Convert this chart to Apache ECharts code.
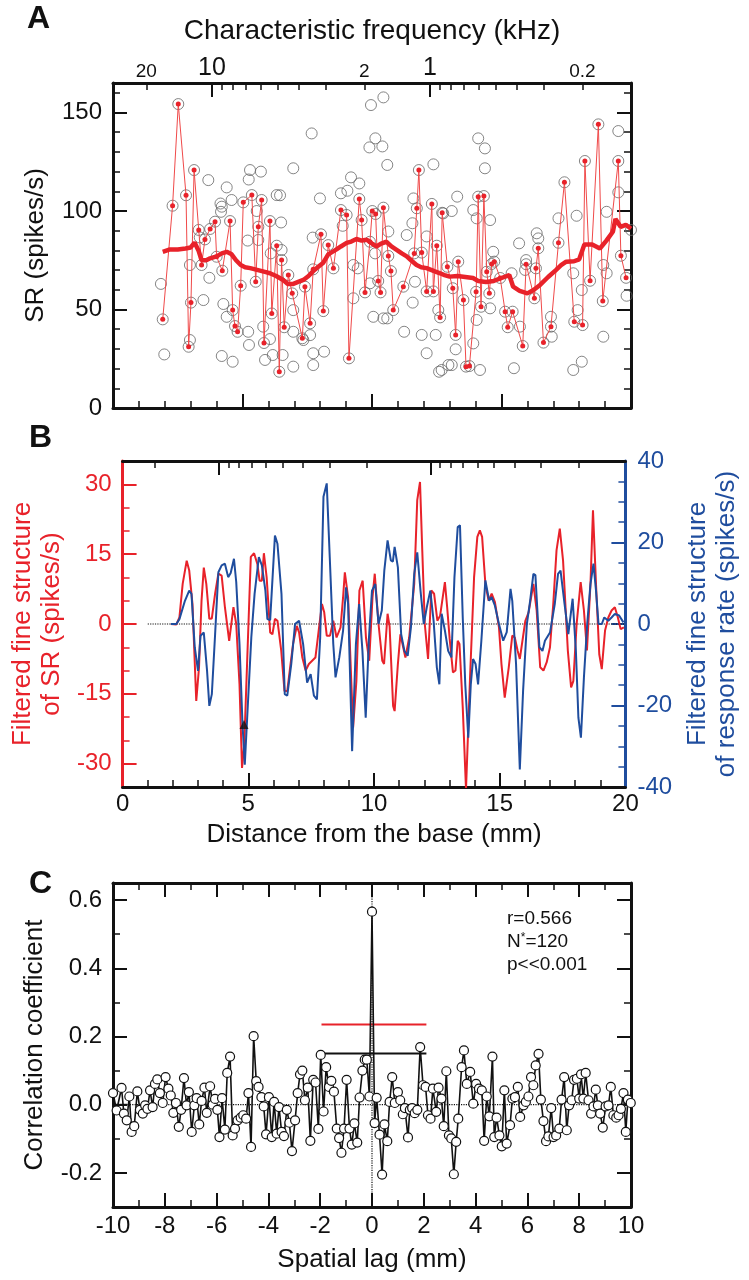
<!DOCTYPE html>
<html><head><meta charset="utf-8">
<script src="https://cdn.jsdelivr.net/npm/echarts@6/dist/echarts.min.js"></script>
<style>html,body{margin:0;padding:0;background:#fff}#c{width:749px;height:1280px}</style>
</head><body><div id="c"></div>
<script>
// ---------------- DATA ----------------
// Top axis: characteristic frequency (kHz)
const cfLabelFreqs = [20, 10, 2, 1, 0.2];
const cfMajorFreqs = [10, 1];
const cfMinorFreqs = [20, 9, 8, 7, 6, 5, 4, 3, 2, 0.9, 0.8, 0.7, 0.6, 0.5, 0.4, 0.3, 0.2];

// Panel A: SR of fibres with both measures (red, connected)
const aRedMm = [1.92,2.30,2.52,2.82,2.92,3.01,3.13,3.31,3.42,3.55,3.75,3.94,4.00,4.22,4.52,4.62,4.71,4.81,4.93,5.03,5.36,5.51,5.61,5.74,5.83,
6.06,6.13,6.32,6.42,6.51,6.61,6.77,6.92,7.31,7.41,7.61,7.73,8.03,8.12,8.31,8.51,8.80,9.02,9.11,9.51,9.60,9.73,9.92,10.01,10.14,10.24,10.33,10.44,10.63,10.73,10.82,11.21,11.63,11.73,11.81,11.92,12.11,12.31,12.37,12.50,12.63,12.71,
12.91,13.12,13.23,13.33,13.53,13.63,13.76,14.02,14.10,14.21,14.32,14.43,14.53,14.62,14.72,14.95,15.14,15.24,15.43,15.82,15.95,16.27,16.33,16.42,16.62,16.91,17.20,17.43,17.81,18.13,18.22,18.42,18.74,18.91,19.51,19.61,19.81];
const aRedSr = [45.0,102.7,154.3,108,31.1,53.5,120.8,90.4,72.6,85.6,90.9,94.6,76.8,69.7,94.9,49.7,41.6,38.7,62.1,104.4,108.1,64.1,92.0,105.6,33.0,
94.9,48,82.4,18.4,75.1,41,67.5,58.2,35.4,61.6,43.0,70.4,88.2,49.2,82.7,70.9,100.5,98.0,25.2,106.1,95.4,58.7,84.4,100,98.5,64.5,58.7,101.7,77.2,69.5,49.7,61.6,78.5,101.4,120.8,78.9,59.2,103.6,59.2,82.4,46.0,99.1,
71.7,60.8,37.1,74.3,54.8,21,21.3,59.0,107.3,51.4,107.6,69.2,58.2,73.1,74.3,66,48.9,41,48.9,31.5,73,55.7,70.9,81.1,33.2,41.3,83.9,114.6,43.8,42.1,125.4,64.6,144,54.3,125.4,77.3,66.1];
// Panel A: other fibres (grey circles only)
const aGreyMm = [1.85,1.98,2.97,2.97,3.35,3.49,3.68,3.72,4.15,4.17,4.2,4.26,4.39,4.39,4.2,4.58,4.62,5.2,5.22,5.25,5.29,5.24,5.71,5.55,5.61,5.8,5.87,6.09,6.17,6.06,6.32,6.45,6.96,6.49,6.51,6.55,6.96,6.96,6.96,7.35,7.61,7.67,7.73,7.73,7.99,8.15,7.71,8.8,9.05,9.19,9.51,8.87,9.28,9.45,9.28,9.92,9.96,10.44,9.9,10.13,10.4,10.59,10.05,10.44,10.59,10.12,10.63,11.24,11.34,11.6,11.56,11.66,11.57,11.92,12.11,12.11,12.37,12.46,12.59,12.75,12.95,12.56,13.08,13.29,12.69,13.08,13.23,13.91,14.17,14.1,14.36,14.36,14.56,13.91,14.04,14.04,14.56,14.68,15.39,15.48,15.68,15.71,15.91,15.95,16.36,16.42,16.91,16.94,17.2,17.77,18.1,17.77,17.94,18.1,17.9,18.93,19.06,18.93,19.06,19.51,19.51,19.83,20.0];
const aGreySr = [63,27.2,72.6,34.5,86.6,54.8,115.7,66.1,103.8,99.6,26.4,52.8,112,46.3,102.2,105.6,23.5,85,38.7,32,120.8,116,120,100,85.3,41.3,24.4,78.5,26.9,35,108.1,108,121.7,94.2,80.2,26.9,49.7,38.7,21,34.5,37,139.4,21.8,27.8,106.4,28.6,86.5,109,110.3,117.1,114,92.5,72.6,70.9,55.7,63.3,153.8,157.7,132.3,136.9,132.8,123.4,46.3,45.5,45.5,78.5,89.6,38.7,87.8,106.4,93.8,64.1,53.5,37.1,27.8,87.1,123.7,37.1,18.4,98.8,21.8,49.7,100,107.3,19.3,21.8,29.8,32.8,19.3,136.9,131.8,121.7,95.4,100.5,96.3,44.7,50.6,79.3,68.4,20.2,83.6,41.3,70.1,75.1,88.7,86.1,46.3,36.2,96.3,19.3,23.5,68.4,49.7,59.9,97.6,36.2,99.6,72.6,68.4,140.6,109.5,57,90.4];
// Panel A: running average (thick red)
const aAvgMm = [1.92,2.2,2.5,2.8,3.0,3.15,3.3,3.42,3.6,3.75,4.0,4.2,4.39,4.58,4.75,4.93,5.1,5.3,5.6,5.9,6.06,6.3,6.57,6.75,6.96,7.15,7.35,7.55,7.73,7.95,8.12,8.31,8.63,8.8,9.02,9.2,9.4,9.6,9.8,10.0,10.18,10.35,10.56,10.75,10.95,11.15,11.34,11.55,11.72,11.9,12.11,12.4,12.63,12.8,13.0,13.3,13.6,13.9,14.1,14.4,14.7,15.0,15.3,15.45,15.7,16.0,16.25,16.5,16.8,17.1,17.3,17.5,17.8,18.0,18.2,18.5,18.8,19.05,19.3,19.4,19.6,19.8,20.0];
const aAvgSr = [79.3,80.5,80.5,81,81.5,84,80,75,75,76,77,78.5,79.3,78,75,72.6,71.5,71,70,69,68.4,67,65,63,63,64,65,67,69.5,72,73.8,78,80.5,82,83.8,84.5,85.8,85,85.4,83.5,82,83.5,84.4,82,80.3,78.5,77,74.5,72.6,71.5,71,69.5,68.4,67.5,66.7,67,66.5,66,64.5,64,64.5,66,67.5,61.6,59.5,58.2,60,62.6,66.5,70,72.5,74.3,74.5,75.5,83,83,81,85,89.5,96,92,93,91];

// Panel B: filtered fine structure
const bRedMm = [1.92,2.14,2.26,2.39,2.55,2.65,2.78,2.93,3.04,3.14,3.23,3.33,3.45,3.55,3.68,3.81,3.94,4.07,4.24,4.41,4.52,4.65,4.75,4.84,4.97,5.10,5.23,5.36,5.45,5.54,5.62,5.73,5.87,5.96,6.06,6.16,6.31,6.44,6.55,6.68,6.78,6.93,7.02,7.15,7.28,7.41,7.54,7.67,7.80,7.93,8.02,8.12,8.25,8.38,8.51,8.67,8.77,8.84,8.97,9.10,9.17,9.30,9.42,9.55,9.68,9.81,9.94,10.03,10.18,10.33,10.40,10.54,10.62,10.76,10.82,10.95,11.05,11.25,11.40,11.60,11.72,11.83,11.92,12.02,12.15,12.28,12.39,12.52,12.63,12.82,12.91,13.01,13.14,13.24,13.33,13.40,13.53,13.66,13.82,13.98,14.11,14.21,14.30,14.43,14.56,14.68,14.81,14.97,15.07,15.20,15.36,15.50,15.60,15.71,15.80,16.02,16.15,16.34,16.47,16.61,16.74,16.87,17.00,17.13,17.26,17.39,17.52,17.71,17.84,17.93,18.06,18.22,18.35,18.47,18.61,18.71,18.83,18.96,19.06,19.19,19.32,19.45,19.58,19.70,19.81,19.94];
const bRedVal = [0,-0.1,1.4,8.6,13.6,11.5,4.3,-16.5,-9.3,5.0,12.1,8.6,1.1,1.2,6.5,10.8,10.4,3.6,-3.6,3.6,0,-12.9,-30.9,-25.8,-5.7,14.4,15.2,12.9,9.3,9.3,15.2,10.0,-1.8,-2.2,1.1,0.7,-5.7,-14.4,-14.4,-8.6,-4.3,-0.4,-1.8,-7.2,-10.0,-8.6,-7.9,-7.2,-1.4,4.3,2.5,-2.5,-2.5,0.7,-2.9,-0.7,5.7,11.1,5.7,-12.9,-22.2,-12.2,7.2,9.3,-2.9,-7.9,5.7,10.8,0,-7.9,-8.6,2.2,-0.5,-17.6,-18.7,-8.6,-2.2,-7.2,-2.9,8.6,26.6,30.5,15.8,0,-7.5,7.2,6.5,0.7,1.8,9.0,3.6,-3.2,-10.4,-10.0,-3.6,-4.3,-17.9,-35.5,-11.5,10.0,18.7,20.1,18.7,8.6,5.0,6.5,4.7,-0.7,-8.6,-15.8,-9.3,-2.5,-2.9,-5.7,-7.5,0.7,2.5,8.6,2.9,-9.3,-10.0,-8.2,-5.0,4.3,15.8,20.5,13.6,-5.7,-13.6,-12.2,0,9.0,2.9,-5.7,8.6,24.4,8.6,-6.5,-9.7,-1.4,1.4,2.9,3.6,1.4,-1.1,-0.7];
const bBlueMm = [1.92,2.14,2.26,2.48,2.65,2.74,2.87,3.0,3.10,3.23,3.36,3.45,3.55,3.68,3.81,3.94,4.07,4.2,4.3,4.43,4.52,4.65,4.77,4.86,4.97,5.12,5.25,5.42,5.54,5.68,5.76,5.87,6.06,6.16,6.32,6.45,6.55,6.71,6.86,7.02,7.18,7.34,7.48,7.61,7.73,7.86,7.99,8.12,8.24,8.38,8.47,8.62,8.77,8.89,8.97,9.13,9.28,9.41,9.54,9.67,9.8,9.92,10.05,10.18,10.31,10.41,10.54,10.67,10.75,10.82,10.95,11.08,11.21,11.34,11.47,11.6,11.72,11.85,11.98,12.1,12.24,12.37,12.5,12.6,12.69,12.82,12.95,13.08,13.2,13.33,13.42,13.53,13.63,13.75,13.85,13.94,14.04,14.14,14.27,14.43,14.58,14.68,14.81,14.97,15.14,15.28,15.43,15.5,15.65,15.8,15.93,16.08,16.21,16.34,16.42,16.58,16.7,16.8,17.0,17.19,17.32,17.42,17.58,17.73,17.9,18.03,18.13,18.23,18.35,18.48,18.61,18.73,18.83,18.93,19.06,19.16,19.32,19.45,19.58,19.75,19.92];
const bBlueVal = [0,0,1.2,5.7,8.2,7.4,-5.7,-11.5,-2.9,-2.1,-11.5,-20.1,-17.2,-2.5,12.7,14.4,14.8,11.5,12.5,16,10.3,-4.9,-24.6,-34.5,-21.3,-3.3,7.4,16.4,14.4,8.2,1.2,1.0,21.7,19.7,7.4,-17.2,-17.6,-9.8,0,0.8,-4.9,-14.4,-12.3,-17.6,-18.5,-3.3,31.2,34.5,16.4,-4.9,-13.1,-8.2,-1.6,9.0,5,-31.2,-5,4.9,-6.6,-23,-3.3,8.2,9.8,0,3.3,13.1,20.5,15.6,15.3,18.9,13.9,-2.5,-6.6,-7.8,-0.8,12.3,17.6,8.2,0,4.1,8.2,0.8,-10.7,-14.8,2.5,-1.6,-6.6,-8.2,11.5,23.8,24.2,1.6,-14.8,-27.9,-14.8,-8.6,-9.8,-14.8,-4.1,10.7,5.7,6.6,4.5,0,-4.1,-2,8.6,5.7,-9.8,-35.7,-16.4,0,5.7,12.3,12,-5.7,-6.6,-4.1,-2.1,4.9,12.3,13.1,4.9,-2.5,6.2,-6.6,-23,-27.9,-13.1,0,9.8,14.8,8.2,0,0,1.6,0.8,1.6,2.5,2.1,0.4];
const bZeroLineMm = [1.0, 20];
const bMarker = [4.83, -21.6];

// Panel C: spatial cross-correlation
const cLag = [-10,-9.86,-9.67,-9.58,-9.47,-9.37,-9.28,-9.18,-9.06,-8.96,-8.85,-8.76,-8.67,-8.57,-8.47,-8.38,-8.29,-8.19,-8.08,-7.97,-7.86,-7.77,-7.67,-7.57,-7.46,-7.37,-7.26,-7.16,-7.07,-6.96,-6.86,-6.77,-6.67,-6.58,-6.47,-6.38,-6.25,-6.15,-6.06,-5.97,-5.89,-5.79,-5.68,-5.59,-5.48,-5.38,-5.29,-5.19,-5.07,-4.97,-4.86,-4.77,-4.67,-4.57,-4.47,-4.38,-4.27,-4.18,-4.09,-3.98,-3.87,-3.78,-3.68,-3.59,-3.49,-3.40,-3.29,-3.19,-3.09,-2.97,-2.87,-2.78,-2.69,-2.59,-2.48,-2.38,-2.27,-2.18,-2.07,-1.98,-1.87,-1.77,-1.66,-1.57,-1.47,-1.36,-1.27,-1.18,-1.08,-0.98,-0.87,-0.78,-0.68,-0.57,-0.48,-0.37,-0.28,-0.2,-0.1,0,0.1,0.18,0.29,0.39,0.48,0.59,0.68,0.78,0.88,1.0,1.09,1.19,1.27,1.39,1.46,1.55,1.65,1.75,1.86,1.97,2.07,2.16,2.26,2.35,2.48,2.57,2.68,2.77,2.87,2.97,3.06,3.16,3.25,3.33,3.46,3.55,3.66,3.79,3.91,4.02,4.13,4.24,4.33,4.43,4.53,4.65,4.72,4.81,4.92,5.01,5.11,5.2,5.33,5.42,5.52,5.63,5.72,5.85,5.94,6.04,6.14,6.23,6.32,6.43,6.52,6.62,6.72,6.81,6.92,7.01,7.11,7.23,7.32,7.42,7.52,7.61,7.71,7.8,7.91,8.0,8.07,8.16,8.25,8.36,8.46,8.55,8.64,8.72,8.81,8.91,9.02,9.13,9.22,9.32,9.43,9.52,9.61,9.71,9.8,9.88,9.99];
const cCorr = [0.034,-0.017,0.049,-0.026,-0.046,0.024,-0.080,-0.063,0.039,-0.015,-0.026,-0.002,-0.012,0.042,-0.007,0.061,0.074,0.034,0.005,0.081,0.047,0.027,-0.024,0.005,-0.065,-0.015,0.078,-0.002,0.037,-0.080,-0.002,0.019,-0.058,0.011,0.050,-0.024,0.054,0,0.017,-0.015,-0.095,0.019,-0.073,0.093,0.141,-0.090,-0.070,-0.046,-0.038,-0.031,-0.041,0.034,-0.124,0.201,0.069,0.052,0.022,-0.005,-0.087,0.022,-0.095,0.008,-0.085,-0.007,-0.080,-0.092,-0.015,-0.053,-0.136,-0.046,0.034,0.089,0.100,0.013,0.050,-0.106,0.073,0.065,-0.071,0.146,-0.020,0.110,0.052,0.070,0.038,-0.070,-0.098,-0.141,-0.070,0.073,-0.070,-0.117,-0.055,-0.111,0.021,0.100,0.132,0.132,0.024,0.566,-0.054,0.020,-0.088,-0.205,-0.058,-0.107,0.008,0.081,0.005,0.037,0.013,-0.028,-0.010,-0.096,-0.015,-0.010,-0.025,-0.015,0.169,0.057,0.052,-0.031,-0.041,0.047,-0.021,0.050,0.018,-0.063,0.098,-0.090,-0.099,-0.204,-0.109,-0.041,0.110,0.159,0.061,0.096,0.003,0.061,0.047,0.042,-0.106,0.024,-0.034,0.141,-0.095,-0.038,-0.090,-0.122,0.042,-0.114,-0.060,0.018,0.022,0.052,-0.036,-0.002,0.008,0.024,0.081,0.057,0.115,0.149,0.015,-0.048,-0.107,-0.093,-0.010,-0.095,-0.090,-0.070,0.015,0.081,-0.075,-0.002,0.013,0.073,0.076,0.018,0.089,0.018,0.093,0.013,-0.026,-0.005,0.044,-0.002,-0.026,-0.067,-0.005,-0.002,0.052,-0.031,-0.038,-0.031,-0.012,0.034,-0.080,0.015,0.005];
const cRedBar = {from: -1.95, to: 2.1, value: 0.235};
const cBlackBar = {from: -1.98, to: 2.1, value: 0.15};
const cStats = ['r=0.566', 'N{sup|*}=120', 'p<<0.001'];

// ---------------- CHART ----------------
const FONT = '"Liberation Sans", Arial, Helvetica, sans-serif';
const BLACK = '#111';
const RED = '#e8222a';
const BLUE = '#1f4d9e';
const cfToMm = f => 12.24 - 8.42 * Math.log10(f);
const cfLabelMap = {};
cfLabelFreqs.forEach(f => { cfLabelMap[cfToMm(f).toFixed(4)] = f; });

const pairs = (xs, ys) => xs.map((x, i) => [x, ys[i]]);
const range = (a, b, s) => { const r = []; for (let v = a; v <= b + 1e-9; v += s) r.push(+v.toFixed(4)); return r; };
const without = (arr, ex) => arr.filter(v => !ex.some(e => Math.abs(e - v) < 1e-6));

function ax(o) {
  const a = {
    type: 'value', gridIndex: o.g, position: o.pos, min: o.min, max: o.max,
    axisLine: { show: !o.minor, onZero: false, lineStyle: { color: o.lineColor || BLACK, width: 3 } },
    axisTick: { show: true, inside: true, length: o.minor ? 7 : 14, customValues: o.ticks,
      lineStyle: { color: o.tickColor || o.lineColor || BLACK, width: o.minor ? 1.5 : 2 } },
    axisLabel: o.labels ? { show: true, customValues: o.labels, formatter: o.fmt, fontSize: o.fs || 24,
      color: o.labelColor || BLACK, fontFamily: FONT, margin: o.margin == null ? 8 : o.margin, rich: o.rich,
      showMinLabel: true, showMaxLabel: true, hideOverlap: false } : { show: false },
    splitLine: { show: false },
    axisPointer: { show: false }
  };
  if (o.name) {
    a.name = o.name; a.nameLocation = 'middle'; a.nameGap = o.nameGap;
    a.nameTextStyle = { fontSize: o.nfs || 26, fontFamily: FONT, color: o.nameColor || BLACK, lineHeight: o.nlh || 30 };
  }
  return a;
}

const cfMajorPos = cfMajorFreqs.map(cfToMm);
const cfMinorPos = cfMinorFreqs.map(cfToMm);
const mmMinor = without(range(1, 19, 1), [5, 10, 15]);
const cfFmt = v => {
  const f = cfLabelMap[(+v).toFixed(4)];
  if (f == null) return '';
  return cfMajorFreqs.includes(f) ? '{big|' + f + '}' : '{small|' + f + '}';
};

const xAxis = [
  // Panel A
  ax({ g: 0, pos: 'bottom', min: 0, max: 20, ticks: [5, 10, 15] }),
  ax({ g: 0, pos: 'bottom', min: 0, max: 20, ticks: mmMinor, minor: true }),
  ax({ g: 0, pos: 'top', min: 0, max: 20, ticks: cfMajorPos, labels: cfLabelFreqs.map(cfToMm), fmt: cfFmt, margin: 2,
       rich: { big: { fontSize: 25, fontFamily: FONT, color: BLACK }, small: { fontSize: 19, fontFamily: FONT, color: BLACK } },
       name: 'Characteristic frequency (kHz)', nameGap: 37, nfs: 28 }),
  ax({ g: 0, pos: 'top', min: 0, max: 20, ticks: cfMinorPos, minor: true }),
  // Panel B
  ax({ g: 1, pos: 'bottom', min: 0, max: 20, ticks: [5, 10, 15], labels: [0, 5, 10, 15, 20], fmt: v => String(Math.round(v)),
       margin: 5, name: 'Distance from the base (mm)', nameGap: 33 }),
  ax({ g: 1, pos: 'bottom', min: 0, max: 20, ticks: mmMinor, minor: true }),
  ax({ g: 1, pos: 'top', min: 0, max: 20, ticks: cfMajorPos }),
  ax({ g: 1, pos: 'top', min: 0, max: 20, ticks: cfMinorPos, minor: true }),
  // Panel C
  ax({ g: 2, pos: 'bottom', min: -10, max: 10, ticks: range(-8, 8, 2), labels: range(-10, 10, 2), fmt: v => String(Math.round(v)),
       margin: 7, name: 'Spatial lag (mm)', nameGap: 38 }),
  ax({ g: 2, pos: 'bottom', min: -10, max: 10, ticks: range(-9, 9, 2), minor: true }),
  ax({ g: 2, pos: 'top', min: -10, max: 10, ticks: range(-8, 8, 2) }),
  ax({ g: 2, pos: 'top', min: -10, max: 10, ticks: range(-9, 9, 2), minor: true })
];

const yAxis = [
  // Panel A
  ax({ g: 0, pos: 'left', min: 0, max: 165, ticks: [50, 100, 150], labels: [0, 50, 100, 150], fmt: v => String(Math.round(v)),
       margin: 11, name: 'SR (spikes/s)', nameGap: 49 }),
  ax({ g: 0, pos: 'left', min: 0, max: 165, ticks: without(range(10, 160, 10), [50, 100, 150]), minor: true }),
  ax({ g: 0, pos: 'right', min: 0, max: 165, ticks: [50, 100, 150] }),
  ax({ g: 0, pos: 'right', min: 0, max: 165, ticks: without(range(10, 160, 10), [50, 100, 150]), minor: true }),
  // Panel B red (left)
  ax({ g: 1, pos: 'left', min: -35, max: 35, ticks: [-30, -15, 0, 15, 30], labels: [-30, -15, 0, 15, 30], fmt: v => String(Math.round(v)),
       lineColor: RED, labelColor: RED, nameColor: RED, margin: 11, name: 'Filtered fine structure\nof SR (spikes/s)', nameGap: 53, nlh: 29 }),
  ax({ g: 1, pos: 'left', min: -35, max: 35, ticks: [-25, -20, -10, -5, 5, 10, 20, 25], minor: true, tickColor: RED }),
  // Panel B blue (right)
  ax({ g: 1, pos: 'right', min: -40, max: 40, ticks: [-20, 0, 20], labels: [-40, -20, 0, 20, 40], fmt: v => String(Math.round(v)),
       lineColor: BLUE, labelColor: BLUE, nameColor: BLUE, margin: 12, name: 'Filtered fine structure\nof response rate (spikes/s)', nameGap: 43, nlh: 29 }),
  ax({ g: 1, pos: 'right', min: -40, max: 40, ticks: [-35, -30, -25, -15, -10, -5, 5, 10, 15, 25, 30, 35], minor: true, tickColor: BLUE }),
  // Panel C
  ax({ g: 2, pos: 'left', min: -0.3, max: 0.65, ticks: [-0.2, 0, 0.2, 0.4, 0.6], labels: [-0.2, 0, 0.2, 0.4, 0.6], fmt: v => (+v).toFixed(1),
       margin: 11, name: 'Correlation coefficient', nameGap: 54 }),
  ax({ g: 2, pos: 'left', min: -0.3, max: 0.65, ticks: [-0.1, 0.1, 0.3, 0.5], minor: true }),
  ax({ g: 2, pos: 'right', min: -0.3, max: 0.65, ticks: [-0.2, 0, 0.2, 0.4, 0.6] }),
  ax({ g: 2, pos: 'right', min: -0.3, max: 0.65, ticks: [-0.1, 0.1, 0.3, 0.5], minor: true })
];

const seg = (pts, xi, yi, color, width, type, z) => ({
  type: 'line', xAxisIndex: xi, yAxisIndex: yi, data: pts, symbol: 'none', silent: true, z: z || 2,
  lineStyle: { color: color, width: width, type: type || 'solid' }, animation: false
});

const series = [
  // Panel A
  { type: 'scatter', xAxisIndex: 0, yAxisIndex: 0, symbol: 'circle', symbolSize: 11,
    data: pairs(aGreyMm, aGreySr).concat(pairs(aRedMm, aRedSr)),
    itemStyle: { color: 'rgba(0,0,0,0)', borderColor: '#666', borderWidth: 1 }, z: 2 },
  { type: 'line', xAxisIndex: 0, yAxisIndex: 0, data: pairs(aRedMm, aRedSr), symbol: 'circle', symbolSize: 5, showAllSymbol: true,
    lineStyle: { color: '#f04a4a', width: 1 }, itemStyle: { color: RED }, z: 3 },
  { type: 'line', xAxisIndex: 0, yAxisIndex: 0, data: pairs(aAvgMm, aAvgSr), symbol: 'none',
    lineStyle: { color: RED, width: 4.5 }, z: 4 },
  // Panel B
  seg(bZeroLineMm.map(x => [x, 0]), 4, 4, BLACK, 1.2, 'dotted', 1),
  { type: 'line', xAxisIndex: 4, yAxisIndex: 4, data: pairs(bRedMm, bRedVal), symbol: 'none',
    lineStyle: { color: RED, width: 2 }, z: 3 },
  { type: 'line', xAxisIndex: 4, yAxisIndex: 6, data: pairs(bBlueMm, bBlueVal), symbol: 'none',
    lineStyle: { color: BLUE, width: 2 }, z: 3 },
  { type: 'scatter', xAxisIndex: 4, yAxisIndex: 4, data: [bMarker], symbol: 'triangle', symbolSize: 9,
    itemStyle: { color: BLACK }, z: 5 },
  // Panel C
  seg([[-10, 0], [10, 0]], 8, 8, BLACK, 1.2, 'dotted', 1),
  seg([[0, -0.3], [0, 0.65]], 8, 8, BLACK, 1.2, 'dotted', 1),
  seg([[-10, 0], [-9.45, 0]], 8, 8, BLACK, 1.8, 'solid', 2),
  seg([[9.55, 0], [10, 0]], 8, 8, BLACK, 1.8, 'solid', 2),
  seg([[cRedBar.from, cRedBar.value], [cRedBar.to, cRedBar.value]], 8, 8, RED, 2, 'solid', 2),
  seg([[cBlackBar.from, cBlackBar.value], [cBlackBar.to, cBlackBar.value]], 8, 8, BLACK, 2, 'solid', 2),
  { type: 'line', xAxisIndex: 8, yAxisIndex: 8, data: pairs(cLag, cCorr), symbol: 'circle', symbolSize: 9, showAllSymbol: true,
    lineStyle: { color: BLACK, width: 1.6 }, itemStyle: { color: '#fff', borderColor: BLACK, borderWidth: 1.2 }, z: 4 }
];

const graphic = [
  { type: 'text', left: 27, top: 3, style: { text: 'A', font: 'bold 32px ' + FONT, fill: BLACK } },
  { type: 'text', left: 29, top: 422, style: { text: 'B', font: 'bold 32px ' + FONT, fill: BLACK } },
  { type: 'text', left: 29, top: 868, style: { text: 'C', font: 'bold 32px ' + FONT, fill: BLACK } },
  { type: 'text', left: 507, top: 909, style: { text: cStats[0], fontSize: 19, fontFamily: FONT, fill: BLACK } },
  { type: 'text', left: 507, top: 932, style: { text: cStats[1], fontSize: 19, fontFamily: FONT, fill: BLACK,
      rich: { sup: { fontSize: 12, fontFamily: FONT, verticalAlign: 'top', padding: [0, 0, 8, 0] } } } },
  { type: 'text', left: 507, top: 955, style: { text: cStats[2], fontSize: 19, fontFamily: FONT, fill: BLACK } }
];

const chart = echarts.init(document.getElementById('c'), null, { renderer: 'canvas' });
chart.setOption({
  animation: false,
  backgroundColor: '#fff',
  textStyle: { fontFamily: FONT },
  grid: [
    { left: 113, top: 83, width: 518, height: 325 },
    { left: 113, top: 461, width: 518, height: 326 },
    { left: 113, top: 883, width: 518, height: 324 }
  ],
  xAxis: xAxis, yAxis: yAxis, series: series, graphic: graphic
});
</script></body></html>
